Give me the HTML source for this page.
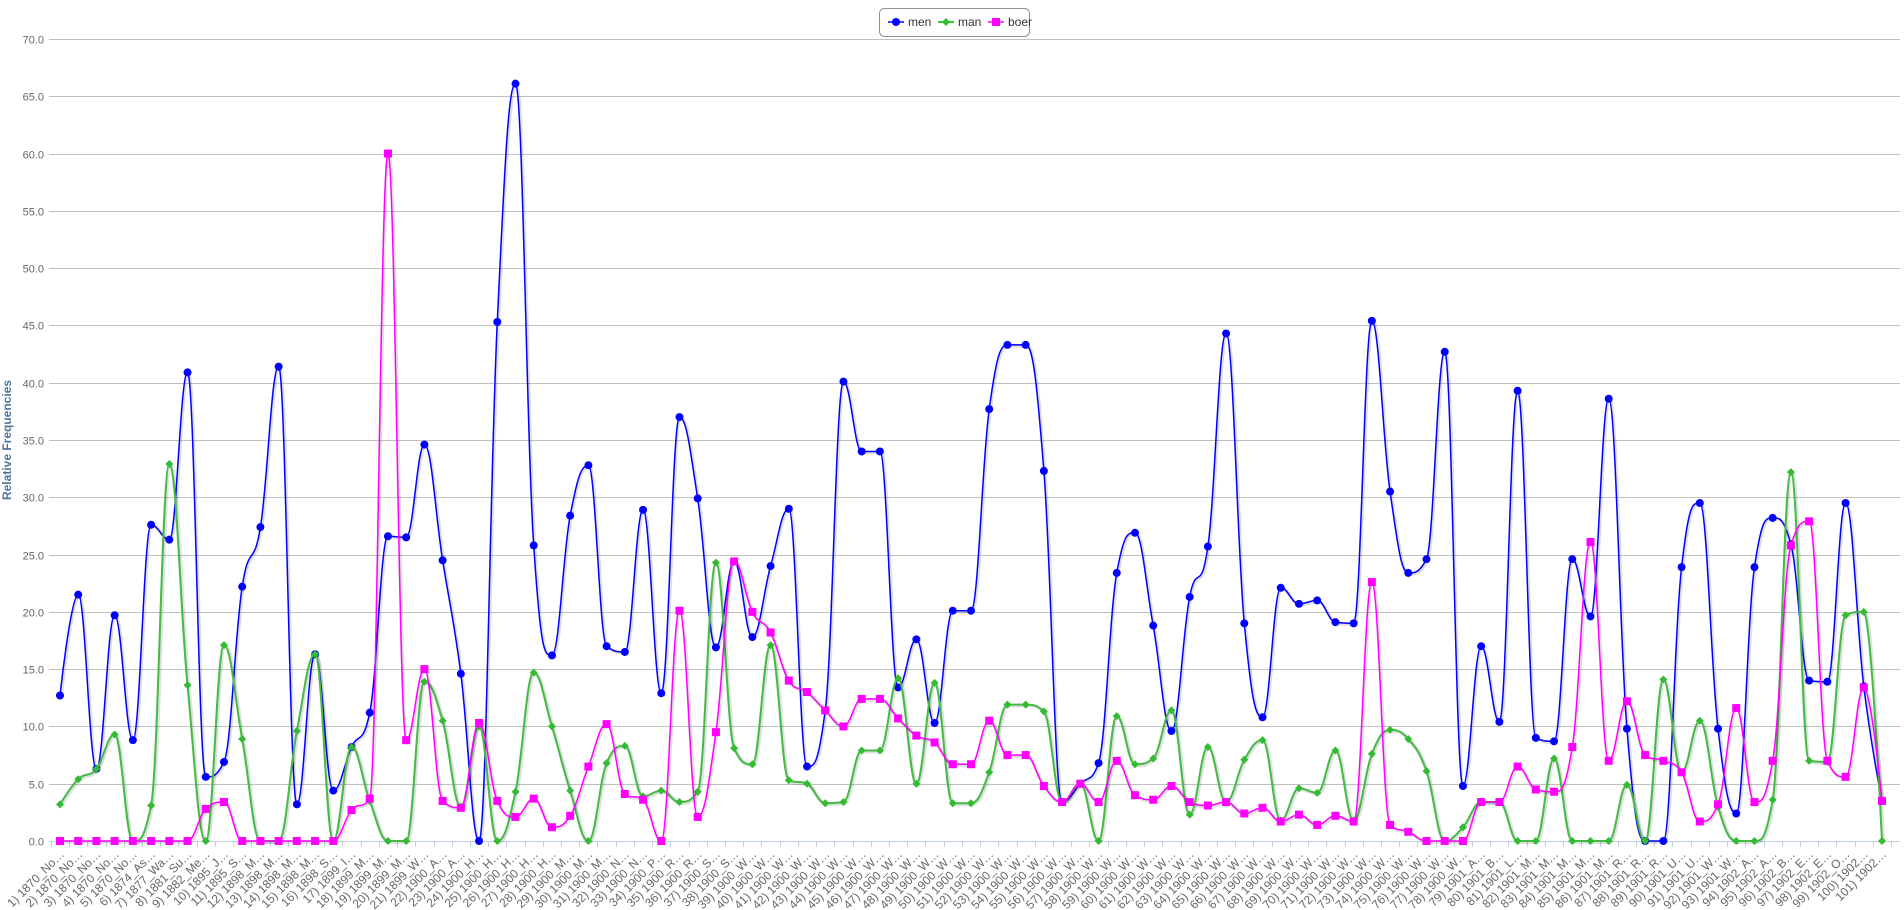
<!DOCTYPE html>
<html><head><meta charset="utf-8"><style>
html,body{margin:0;padding:0;background:#fff;}
svg{display:block;font-family:"Liberation Sans",sans-serif;}
</style></head><body>
<svg id="chart" width="1904" height="910" viewBox="0 0 1904 910" xmlns="http://www.w3.org/2000/svg">
<g id="grid"></g>
<g id="yaxis"></g>
<text transform="translate(11,440) rotate(-90)" text-anchor="middle" font-size="12" font-weight="bold" fill="#4d759e">Relative Frequencies</text>
<g id="xaxis"></g>
<g id="series"></g>
<g id="legend">
  <rect x="879.5" y="8.5" width="150" height="28" rx="5" fill="#fff" stroke="#909090"/>
  <g>
    <line x1="888" y1="22" x2="904" y2="22" stroke="#0000ff" stroke-width="1.5"/>
    <circle cx="896" cy="22" r="4" fill="#0000ff"/>
    <text x="908" y="26" font-size="12" fill="#333">men</text>
  </g>
  <g>
    <line x1="938" y1="22" x2="954" y2="22" stroke="#33cc33" stroke-width="2"/>
    <path d="M946 18 L950 22 L946 26 L942 22 Z" fill="#33bb33"/>
    <text x="958" y="26" font-size="12" fill="#333">man</text>
  </g>
  <g>
    <line x1="988" y1="22" x2="1004" y2="22" stroke="#ff00ff" stroke-width="1.5"/>
    <rect x="992" y="18" width="8" height="8" fill="#ff00ff"/>
    <text x="1008" y="26" font-size="12" fill="#333">boer</text>
  </g>
</g>
</svg>
<script>
const categories = ["1870_No","1870_No","1870_No","1870_No","1870_No","1874_As","1877_Wa","1881_Su","1882_Me","1895_J","1895_S","1898_M","1898_M","1898_M","1898_M","1898_S","1899_I","1899_M","1899_M","1899_M","1899_W","1900_A","1900_A","1900_H","1900_H","1900_H","1900_H","1900_H","1900_M","1900_M","1900_M","1900_N","1900_N","1900_P","1900_R","1900_R","1900_S","1900_S","1900_W","1900_W","1900_W","1900_W","1900_W","1900_W","1900_W","1900_W","1900_W","1900_W","1900_W","1900_W","1900_W","1900_W","1900_W","1900_W","1900_W","1900_W","1900_W","1900_W","1900_W","1900_W","1900_W","1900_W","1900_W","1900_W","1900_W","1900_W","1900_W","1900_W","1900_W","1900_W","1900_W","1900_W","1900_W","1900_W","1900_W","1900_W","1900_W","1900_W","1901_A","1901_B","1901_L","1901_M","1901_M","1901_M","1901_M","1901_M","1901_R","1901_R","1901_R","1901_U","1901_U","1901_W","1901_W","1902_A","1902_A","1902_B","1902_E","1902_E","1902_O","1902","1902"];
const menValues = [12.7,21.5,6.3,19.7,8.8,27.6,26.3,40.9,5.6,6.9,22.2,27.4,41.4,3.2,16.3,4.4,8.2,11.2,26.6,26.5,34.6,24.5,14.6,0,45.3,66.1,25.8,16.2,28.4,32.8,17.0,16.5,28.9,12.9,37.0,29.9,16.9,24.4,17.8,24.0,29.0,6.5,11.4,40.1,34.0,34.0,13.4,17.6,10.3,20.1,20.1,37.7,43.3,43.3,32.3,3.4,5.0,6.8,23.4,26.9,18.8,9.6,21.3,25.7,44.3,19.0,10.8,22.1,20.7,21.0,19.1,19.0,45.4,30.5,23.4,24.6,42.7,4.8,17.0,10.4,39.3,9.0,8.7,24.6,19.6,38.6,9.8,0,0,23.9,29.5,9.8,2.4,23.9,28.2,25.9,14.0,13.9,29.5,13.5,3.5];
const manValues = [3.2,5.4,6.3,9.3,0,3.1,32.9,13.6,0,17.1,8.9,0,0,9.6,16.3,0,8.2,3.5,0,0,13.9,10.5,3.0,10.0,0,4.3,14.7,10.0,4.4,0,6.8,8.3,3.9,4.4,3.4,4.3,24.3,8.1,6.7,17.1,5.3,5.0,3.3,3.4,7.9,7.9,14.2,5.0,13.8,3.3,3.3,6.0,11.9,11.9,11.3,3.4,5.0,0,10.9,6.7,7.2,11.4,2.3,8.2,3.4,7.1,8.8,1.8,4.6,4.2,7.9,1.8,7.6,9.7,8.9,6.1,0,1.2,3.4,3.4,0,0,7.2,0,0,0,4.9,0,14.1,6.0,10.5,3.0,0,0,3.6,32.2,7.0,6.9,19.7,20.0,0];
const boerValues = [0,0,0,0,0,0,0,0,2.8,3.4,0,0,0,0,0,0,2.7,3.7,60.0,8.8,15.0,3.5,2.9,10.3,3.5,2.1,3.7,1.2,2.2,6.5,10.2,4.1,3.6,0,20.1,2.1,9.5,24.4,20.0,18.2,14.0,13.0,11.4,10.0,12.4,12.4,10.7,9.2,8.6,6.7,6.7,10.5,7.5,7.5,4.8,3.4,5.0,3.4,7.0,4.0,3.6,4.8,3.4,3.1,3.4,2.4,2.9,1.7,2.3,1.4,2.2,1.7,22.6,1.4,0.8,0,0,0,3.4,3.4,6.5,4.5,4.3,8.2,26.1,7.0,12.2,7.5,7.0,6.0,1.7,3.2,11.6,3.4,7.0,25.8,27.9,7.0,5.6,13.4,3.5];
const yTicks = [0,5,10,15,20,25,30,35,40,45,50,55,60,65,70];

const NS = "http://www.w3.org/2000/svg";
const plotLeft = 49, plotRight = 1900, y0 = 841, yTop = 39, yMax = 70;
const firstX = 60, lastX = 1882;
function xPos(i){ return firstX + i*(lastX-firstX)/(categories.length-1); }
function yPos(v){ return y0 - v*(y0-yTop)/yMax; }
function mk(tag, attrs, parent){ const e=document.createElementNS(NS,tag); for(const k in attrs) e.setAttribute(k,attrs[k]); parent.appendChild(e); return e; }

const grid = document.getElementById('grid'), yaxis=document.getElementById('yaxis'), xaxis=document.getElementById('xaxis'), series=document.getElementById('series');
yTicks.forEach(t=>{
  const y = Math.round(yPos(t))+0.5;
  const gl = mk('line',{x1:plotLeft,x2:plotRight,y1:y,y2:y,stroke:'#c0c0c0','stroke-width':1},grid);
  
  
  const tl = mk('text',{x:44,y:y+4,'text-anchor':'end','font-size':11,fill:'#666'},yaxis);
  tl.textContent = t.toFixed(1);
  
  
});
mk('line',{x1:plotLeft,x2:plotRight,y1:y0+0.5,y2:y0+0.5,stroke:'#c0d0e0','stroke-width':1},xaxis);
const step = (lastX-firstX)/(categories.length-1);
for(let i=0;i<=categories.length;i++){
  const x = Math.round(firstX - step/2 + i*step)+0.5;
  const tk = mk('line',{x1:x,x2:x,y1:y0,y2:y0+6,stroke:'#c0d0e0','stroke-width':1},xaxis);
  
  
}
categories.forEach((c,i)=>{
  const x = xPos(i)+5, y = y0+14;
  const t = mk('text',{x:x,y:y,'text-anchor':'end','font-size':12,fill:'#666',transform:`rotate(-45 ${x} ${y})`},xaxis);
  t.textContent = (i+1)+') '+c+'…';
  
  
});

function splinePath(vals){
  const pts = vals.map((v,i)=>({x:xPos(i),y:yPos(v)}));
  const sm=1.5, den=2.5;
  const cps = pts.map((p,i)=>{
    if(i===0||i===pts.length-1) return {lx:p.x,ly:p.y,rx:p.x,ry:p.y};
    const a=pts[i-1], b=pts[i+1];
    let lx=(sm*p.x+a.x)/den, ly=(sm*p.y+a.y)/den, rx=(sm*p.x+b.x)/den, ry=(sm*p.y+b.y)/den;
    const corr=((ry-ly)*(rx-p.x))/(rx-lx)+p.y-ry;
    ly+=corr; ry+=corr;
    if(ly>a.y&&ly>p.y){ly=Math.max(a.y,p.y); ry=2*p.y-ly;} else if(ly<a.y&&ly<p.y){ly=Math.min(a.y,p.y); ry=2*p.y-ly;}
    if(ry>b.y&&ry>p.y){ry=Math.max(b.y,p.y); ly=2*p.y-ry;} else if(ry<b.y&&ry<p.y){ry=Math.min(b.y,p.y); ly=2*p.y-ry;}
    return {lx,ly,rx,ry};
  });
  let d=`M${pts[0].x} ${pts[0].y}`;
  for(let i=1;i<pts.length;i++){
    d+=` C${cps[i-1].rx} ${cps[i-1].ry} ${cps[i].lx} ${cps[i].ly} ${pts[i].x} ${pts[i].y}`;
  }
  return d;
}
function drawSeries(vals,color,width,name,marker,mcolor){
  const g = mk('g',{},series);
  
  
  const d = splinePath(vals);
  mk('path',{d:d,fill:'none',stroke:'#000','stroke-opacity':0.12,'stroke-width':width+2,transform:'translate(1,1)'},g);
  const ln = mk('path',{d:d,fill:'none',stroke:color,'stroke-width':width},g);
  
  
  vals.forEach((v,i)=>{
    const x=xPos(i), y=yPos(v);
    let m;
    if(marker==='circle') m=mk('circle',{cx:x,cy:y,r:4,fill:mcolor},g);
    else if(marker==='square') m=mk('rect',{x:x-4,y:y-4,width:8,height:8,fill:mcolor},g);
    else m=mk('path',{d:`M${x} ${y-4}L${x+4} ${y}L${x} ${y+4}L${x-4} ${y}Z`,fill:mcolor},g);
    
    
  });
}
drawSeries(menValues,'#0000ff',1.5,'men','circle','#0000ff');
drawSeries(manValues,'#44bb44',2,'man','diamond','#33bb33');
drawSeries(boerValues,'#ff00ff',1.5,'boer','square','#ff00ff');
</script>
</body></html>
